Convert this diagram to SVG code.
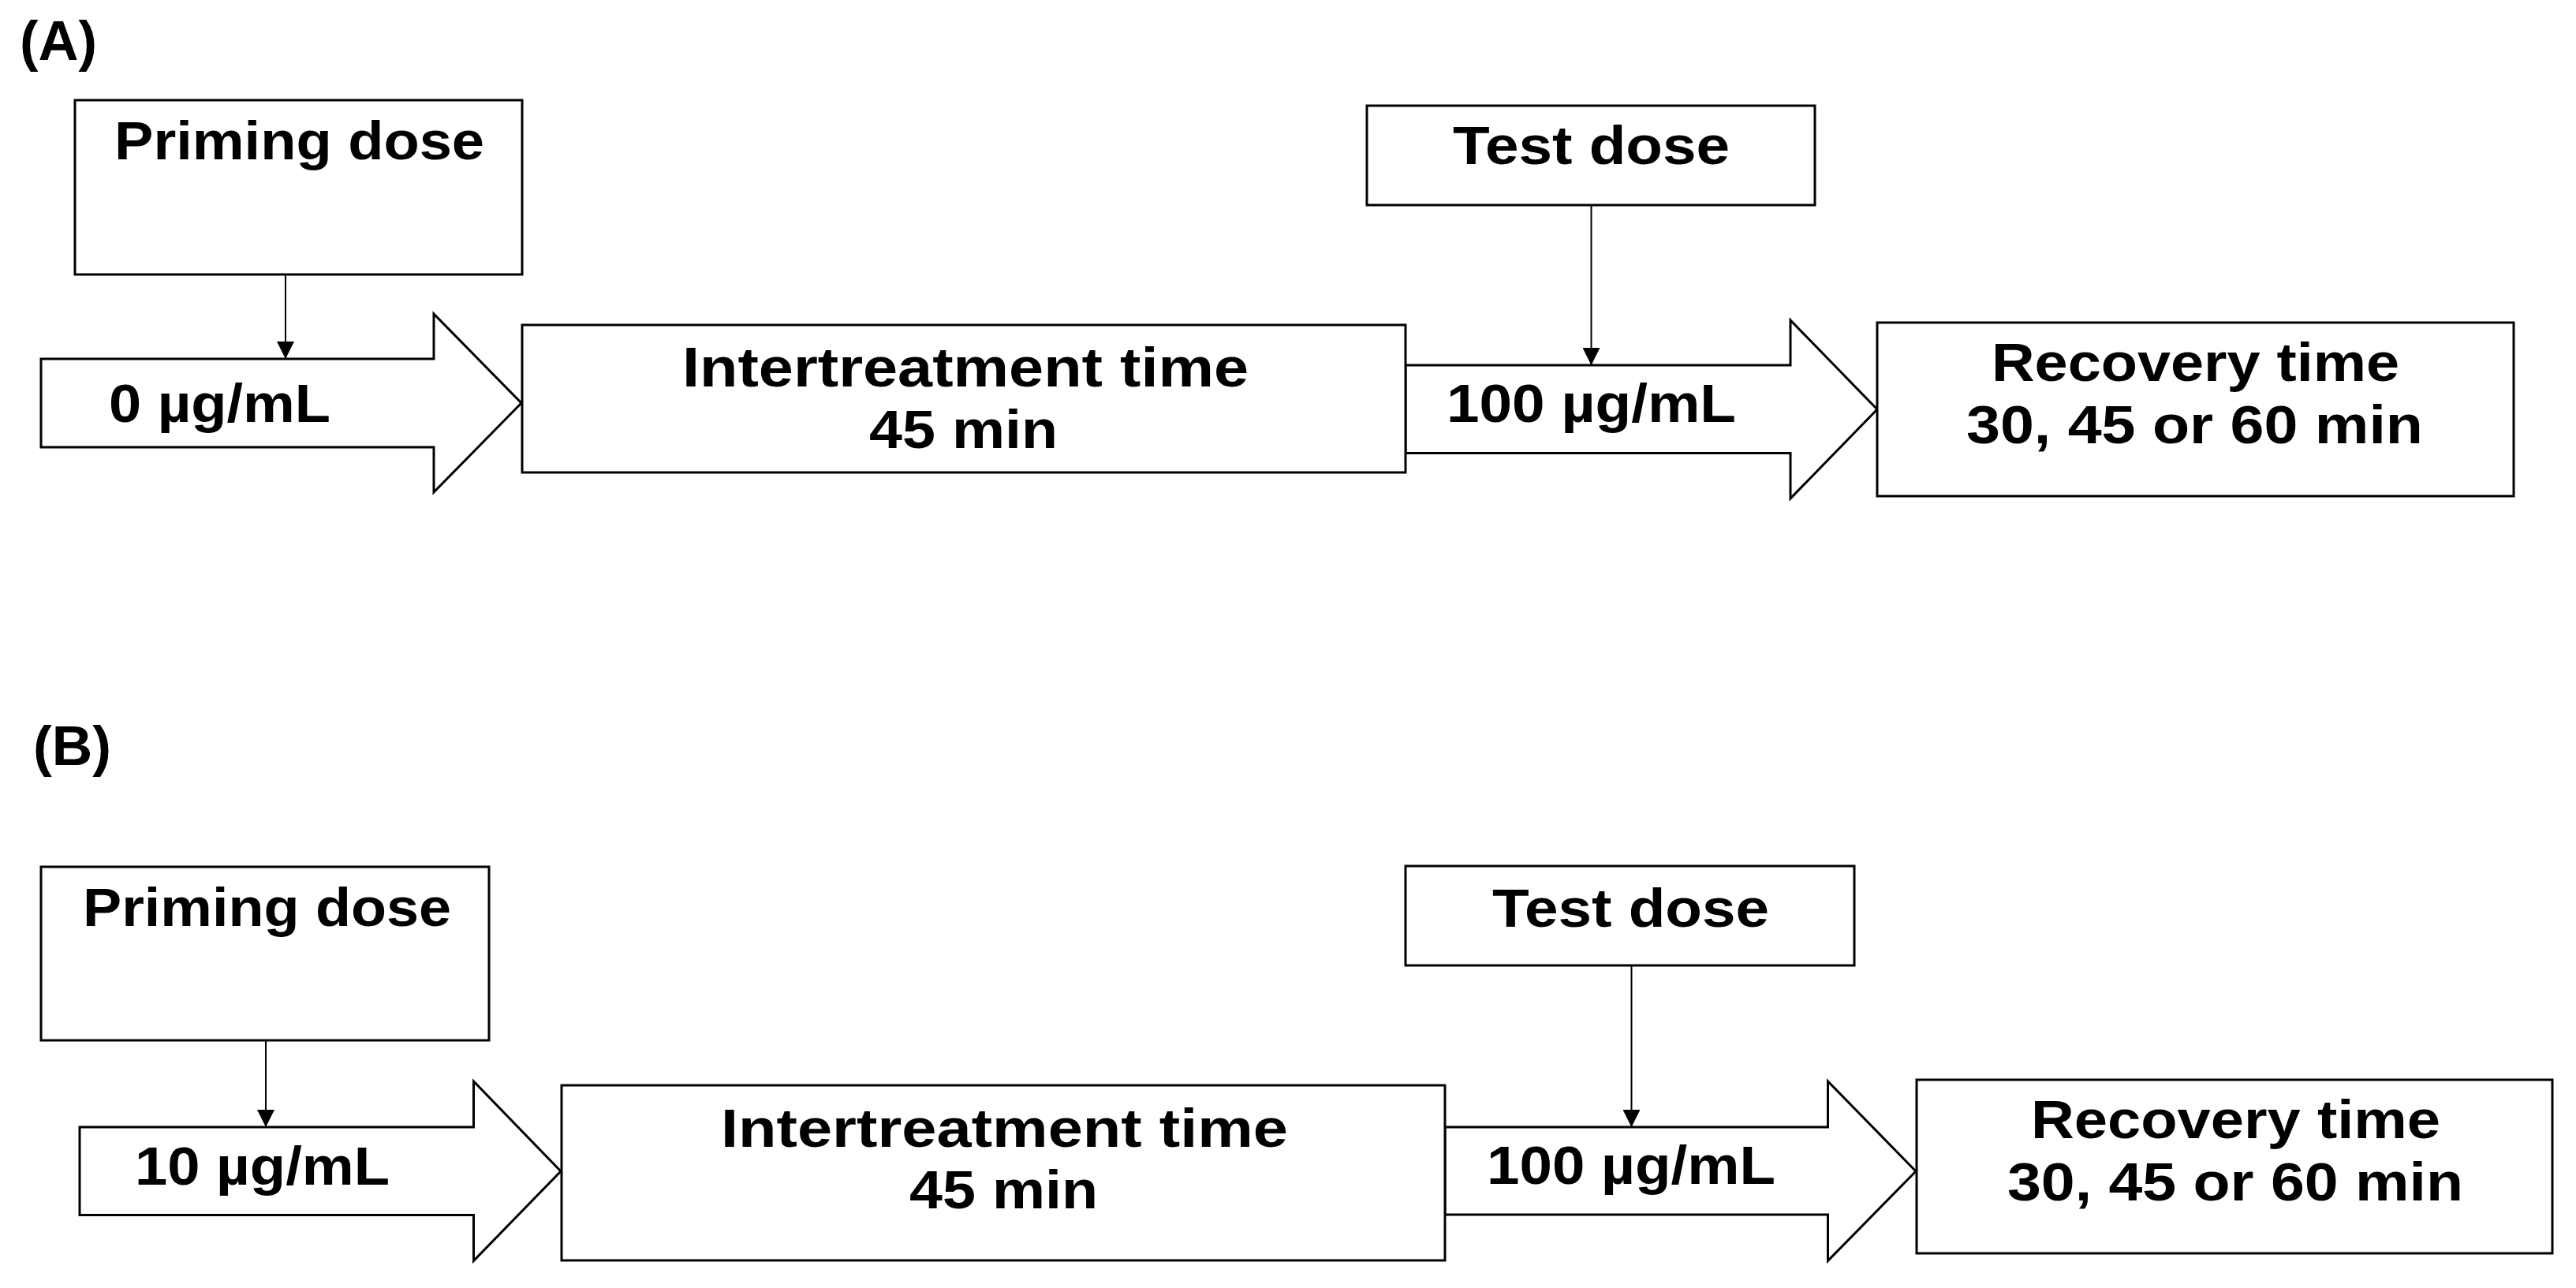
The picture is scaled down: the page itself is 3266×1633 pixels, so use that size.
<svg xmlns="http://www.w3.org/2000/svg" width="3266" height="1633" viewBox="0 0 3266 1633">
<style>
.box{fill:#fff;stroke:#000;stroke-width:3}
.blk{fill:#fff;stroke:#000;stroke-width:3;stroke-linejoin:miter}
.t{font-family:"Liberation Sans",Arial,sans-serif;font-weight:bold;fill:#000;font-size:68px}
.conn{stroke:#000;stroke-width:2;fill:none}
</style>
<defs>
<marker id="ah" markerUnits="userSpaceOnUse" markerWidth="22" markerHeight="22" refX="22" refY="11" orient="auto">
<path d="M0,0 L22,11 L0,22 z" fill="#000"/>
</marker>
</defs>
<rect width="3266" height="1633" fill="#fff"/>

<!-- Panel A -->
<text id="labelA" class="t" x="25" y="76" style="font-size:70px" textLength="98" lengthAdjust="spacingAndGlyphs">(A)</text>

<g id="A-priming">
<rect class="box" x="95" y="127" width="567" height="221"/>
<text class="t" x="145" y="202" textLength="469" lengthAdjust="spacingAndGlyphs">Priming dose</text>
</g>
<g id="A-dose1">
<polygon class="blk" points="52,455 550,455 550,398 661,511 550,624 550,567 52,567"/>
<text class="t" x="138" y="535" textLength="281" lengthAdjust="spacingAndGlyphs">0 µg/mL</text>
</g>
<g id="A-dose2">
<polygon class="blk" points="1782,463 2270,463 2270,406 2380,519 2270,632 2270,574.5 1782,574.5"/>
<text class="t" x="1834" y="535" textLength="367" lengthAdjust="spacingAndGlyphs">100 µg/mL</text>
</g>
<g id="A-inter">
<rect class="box" x="662" y="412" width="1120" height="187"/>
<text class="t" x="865" y="490" style="font-size:70px" textLength="718" lengthAdjust="spacingAndGlyphs">Intertreatment time</text>
<text class="t" x="1102" y="568" textLength="239" lengthAdjust="spacingAndGlyphs">45 min</text>
</g>
<g id="A-test">
<rect class="box" x="1733" y="134" width="568" height="126"/>
<text class="t" x="1842" y="208" textLength="351" lengthAdjust="spacingAndGlyphs">Test dose</text>
</g>
<g id="A-recovery">
<rect class="box" x="2380" y="409" width="807" height="220"/>
<text class="t" x="2525" y="483" textLength="517" lengthAdjust="spacingAndGlyphs">Recovery time</text>
<text class="t" x="2493" y="562" textLength="579" lengthAdjust="spacingAndGlyphs">30, 45 or 60 min</text>
</g>

<!-- Panel B -->
<text id="labelB" class="t" x="42" y="970" style="font-size:70px" textLength="99" lengthAdjust="spacingAndGlyphs">(B)</text>

<g id="B-priming">
<rect class="box" x="52" y="1099" width="568" height="220"/>
<text class="t" x="105" y="1174" textLength="467" lengthAdjust="spacingAndGlyphs">Priming dose</text>
</g>
<g id="B-dose1">
<polygon class="blk" points="101,1429 600.5,1429 600.5,1371 711,1485 600.5,1598.5 600.5,1540.5 101,1540.5"/>
<text class="t" x="171" y="1502" textLength="323" lengthAdjust="spacingAndGlyphs">10 µg/mL</text>
</g>
<g id="B-dose2">
<polygon class="blk" points="1832,1429 2317.5,1429 2317.5,1371 2429,1485 2317.5,1598.5 2317.5,1540 1832,1540"/>
<text class="t" x="1885" y="1501" textLength="366" lengthAdjust="spacingAndGlyphs">100 µg/mL</text>
</g>
<g id="B-inter">
<rect class="box" x="712" y="1376" width="1120" height="222"/>
<text class="t" x="914" y="1454" textLength="719" lengthAdjust="spacingAndGlyphs">Intertreatment time</text>
<text class="t" x="1153" y="1532" textLength="239" lengthAdjust="spacingAndGlyphs">45 min</text>
</g>
<g id="B-test">
<rect class="box" x="1782" y="1098" width="569" height="126"/>
<text class="t" x="1892" y="1175" textLength="351" lengthAdjust="spacingAndGlyphs">Test dose</text>
</g>
<g id="B-recovery">
<rect class="box" x="2430" y="1369" width="806" height="220"/>
<text class="t" x="2575" y="1443" textLength="519" lengthAdjust="spacingAndGlyphs">Recovery time</text>
<text class="t" x="2545" y="1522" textLength="578" lengthAdjust="spacingAndGlyphs">30, 45 or 60 min</text>
</g>

<g id="connectors">
<line class="conn" x1="362" y1="348" x2="362" y2="455" marker-end="url(#ah)"/>
<line class="conn" x1="2017.5" y1="260" x2="2017.5" y2="463" marker-end="url(#ah)"/>
<line class="conn" x1="337" y1="1319" x2="337" y2="1429" marker-end="url(#ah)"/>
<line class="conn" x1="2068.5" y1="1224" x2="2068.5" y2="1429" marker-end="url(#ah)"/>
</g>
</svg>
